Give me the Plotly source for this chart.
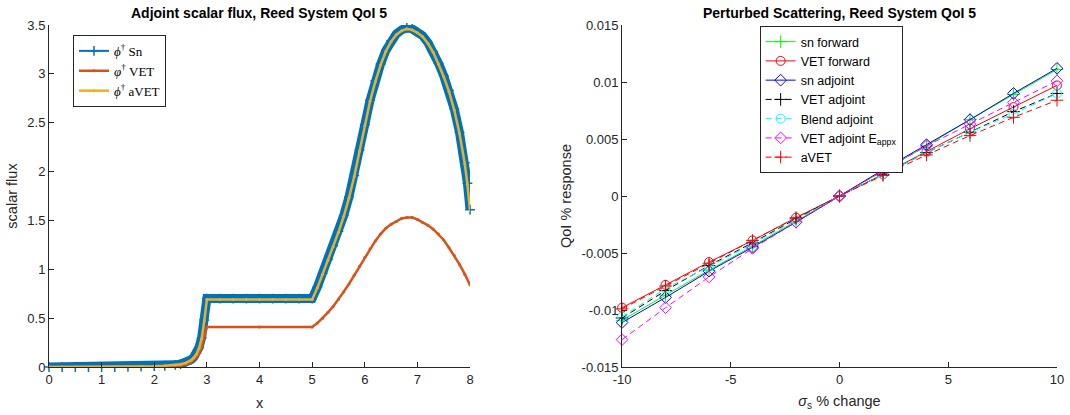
import plotly.graph_objects as go

# ---------------- Left panel data (adjoint scalar flux) ----------------
x_fine = [0, 0.25, 0.5, 0.75, 1.0, 1.25, 1.5, 1.75, 2.0, 2.2, 2.4, 2.5, 2.6, 2.7, 2.75,
          2.8, 2.85, 2.9, 2.95, 3.0, 3.25, 3.5, 3.75, 4.0, 4.25, 4.5, 4.75, 5.0,
          5.1, 5.2, 5.3, 5.4, 5.5, 5.6, 5.7, 5.8, 5.9, 6.0, 6.1, 6.2, 6.3, 6.4, 6.5,
          6.6, 6.7, 6.8, 6.9, 7.0, 7.1, 7.2, 7.3, 7.4, 7.5, 7.6, 7.7, 7.8, 7.9, 7.95, 8.0]
phi_sn = [0, 0, 0, 0, 0, 0, 0.002, 0.004, 0.008, 0.013, 0.022, 0.03, 0.045, 0.075, 0.10,
          0.14, 0.20, 0.30, 0.48, 0.70, 0.70, 0.70, 0.70, 0.70, 0.70, 0.70, 0.70, 0.70,
          0.82, 0.96, 1.10, 1.24, 1.39, 1.55, 1.74, 1.96, 2.22, 2.48, 2.73, 2.93, 3.10, 3.24, 3.34,
          3.41, 3.45, 3.47, 3.46, 3.43, 3.39, 3.32, 3.23, 3.11, 2.98, 2.83, 2.64, 2.40, 2.09, 1.88, 1.61]
phi_avet = [0, 0, 0, 0, 0, 0, 0.002, 0.004, 0.007, 0.012, 0.02, 0.028, 0.042, 0.07, 0.095,
            0.13, 0.19, 0.29, 0.47, 0.69, 0.69, 0.69, 0.69, 0.69, 0.69, 0.69, 0.69, 0.69,
            0.81, 0.95, 1.09, 1.23, 1.38, 1.54, 1.73, 1.95, 2.21, 2.47, 2.72, 2.92, 3.09, 3.23, 3.33,
            3.40, 3.44, 3.46, 3.45, 3.42, 3.38, 3.31, 3.22, 3.10, 2.97, 2.82, 2.63, 2.39, 2.08, 1.87, 1.60]

x_vet = [0, 0.5, 1.0, 1.5, 2.0, 2.2, 2.4, 2.5, 2.6, 2.7, 2.8, 2.85, 2.9, 2.95, 3.0, 4.0, 5.0,
         5.1, 5.2, 5.3, 5.4, 5.5, 5.6, 5.7, 5.8, 5.9, 6.0, 6.1, 6.2, 6.3, 6.4, 6.5, 6.6, 6.7,
         6.8, 6.9, 7.0, 7.1, 7.2, 7.3, 7.4, 7.5, 7.6, 7.7, 7.8, 7.9, 8.0]
phi_vet = [0, 0, 0, 0, 0.002, 0.004, 0.01, 0.015, 0.03, 0.05, 0.10, 0.14, 0.21, 0.32, 0.41, 0.41, 0.41,
           0.45, 0.50, 0.56, 0.62, 0.69, 0.77, 0.85, 0.94, 1.03, 1.12, 1.21, 1.29, 1.36, 1.42, 1.46, 1.49, 1.52,
           1.53, 1.53, 1.51, 1.48, 1.45, 1.41, 1.36, 1.30, 1.22, 1.14, 1.05, 0.95, 0.84]

left_xticks = [0, 1, 2, 3, 4, 5, 6, 7, 8]
left_yticks = [0, 0.5, 1, 1.5, 2, 2.5, 3, 3.5]
left_yticktext = ["0", "0.5", "1", "1.5", "2", "2.5", "3", "3.5"]

# ---------------- Right panel data (perturbed scattering) ----------------
pert = [-10, -8, -6, -4, -2, 0, 2, 4, 6, 8, 10]
sn_forward = [-0.0109, -0.0087, -0.0065, -0.0044, -0.0022, 0, 0.0022, 0.0044, 0.0067, 0.0089, 0.0111]
vet_forward = [-0.0098, -0.0078, -0.0058, -0.0039, -0.0019, 0, 0.0019, 0.0039, 0.0059, 0.0078, 0.0097]
sn_adjoint = [-0.0111, -0.0089, -0.0066, -0.0045, -0.0023, 0, 0.0023, 0.0045, 0.0067, 0.0090, 0.0112]
vet_adjoint = [-0.0107, -0.0083, -0.0061, -0.0041, -0.0020, 0, 0.0019, 0.0038, 0.0056, 0.0074, 0.0090]
blend_adjoint = [-0.0106, -0.0081, -0.0062, -0.0042, -0.0021, 0, 0.0019, 0.0038, 0.0056, 0.0072, 0.0090]
vet_adjoint_eappx = [-0.0126, -0.0098, -0.0071, -0.0046, -0.0023, 0, 0.0022, 0.0044, 0.0063, 0.0082, 0.0101]
avet = [-0.0099, -0.0079, -0.0059, -0.0039, -0.0019, 0, 0.0018, 0.0036, 0.0053, 0.0069, 0.0084]

right_xticks = [-10, -5, 0, 5, 10]
right_xticktext = ["-10", "-5", "0", "5", "10"]
right_yticks = [-0.015, -0.01, -0.005, 0, 0.005, 0.01, 0.015]
right_yticktext = ["-0.015", "-0.01", "-0.005", "0", "0.005", "0.01", "0.015"]

# ---------------- Styling ----------------
SANS = "Liberation Sans, Arial, Helvetica, sans-serif"
SERIF = "Liberation Serif, Times New Roman, serif"
AX = "#262626"
BLUE, ORANGE, YELLOW = "#0072BD", "#D95319", "#EDB120"

fig = go.Figure()

# Left panel
fig.add_trace(go.Scatter(x=x_fine, y=phi_sn, mode="lines", line=dict(color=BLUE, width=9),
                         showlegend=False, hoverinfo="skip", xaxis="x", yaxis="y"))
fig.add_trace(go.Scatter(x=x_fine, y=phi_sn, mode="lines+markers", name="<i>ϕ</i><sup>†</sup> Sn",
                         line=dict(color=BLUE, width=2),
                         marker=dict(symbol="cross-thin", size=7, line=dict(color=BLUE, width=1.5)),
                         cliponaxis=False, xaxis="x", yaxis="y", legend="legend"))
fig.add_trace(go.Scatter(x=x_vet, y=phi_vet, mode="lines+markers", name="<i>φ</i><sup>†</sup> VET",
                         line=dict(color=ORANGE, width=2.5), marker=dict(size=3, color=ORANGE),
                         xaxis="x", yaxis="y", legend="legend"))
fig.add_trace(go.Scatter(x=x_fine, y=phi_avet, mode="lines+markers", name="<i>ϕ</i><sup>†</sup> aVET",
                         line=dict(color=YELLOW, width=2.5), marker=dict(size=3, color=YELLOW),
                         xaxis="x", yaxis="y", legend="legend"))

# Right panel
right_series = [
    ("sn forward", sn_forward, "#00FF00", "solid", "cross-thin", 9),
    ("VET forward", vet_forward, "#FF0000", "solid", "circle-open", 9),
    ("sn adjoint", sn_adjoint, "#0000FF", "solid", "diamond-open", 9),
    ("VET adjoint", vet_adjoint, "#000000", "6px,4px", "cross-thin", 9),
    ("Blend adjoint", blend_adjoint, "#00FFFF", "6px,4px", "circle-open", 9),
    ("VET adjoint E<sub>appx</sub>", vet_adjoint_eappx, "#FF00FF", "6px,4px", "diamond-open", 9),
    ("aVET", avet, "#FF0000", "6px,4px", "cross-thin", 9),
]
for name, vals, col, dash, sym, sz in right_series:
    fig.add_trace(go.Scatter(x=pert, y=vals, mode="lines+markers", name=name,
                             line=dict(color=col, width=1, dash=dash),
                             marker=dict(symbol=sym, size=sz, color=col, line=dict(color=col, width=1)),
                             cliponaxis=False, xaxis="x2", yaxis="y2", legend="legend2"))

axis_common = dict(showline=True, linecolor=AX, linewidth=1, ticks="inside", ticklen=5,
                   tickcolor=AX, tickwidth=1, showgrid=False, zeroline=False, mirror=False,
                   automargin=False, tickfont=dict(family=SANS, size=13, color=AX))

fig.update_layout(
    width=1070, height=415,
    margin=dict(l=49, r=13, t=25, b=48),
    paper_bgcolor="white", plot_bgcolor="white",
    font=dict(family=SANS, color=AX),
    xaxis=dict(domain=[0, 0.4177], range=[0, 8], tickvals=left_xticks,
               title=dict(text="x", font=dict(family=SANS, size=14.5, color=AX), standoff=12),
               **axis_common),
    yaxis=dict(domain=[0, 1], range=[0, 3.5], tickvals=left_yticks, ticktext=left_yticktext,
               title=dict(text="scalar flux", font=dict(family=SANS, size=14.5, color=AX), standoff=6),
               **axis_common),
    xaxis2=dict(domain=[0.5685, 1.0], range=[-10, 10], tickvals=right_xticks, ticktext=right_xticktext,
                anchor="y2",
                title=dict(text="<i>σ</i><sub>s</sub> % change", font=dict(family=SANS, size=14.5, color=AX),
                           standoff=10),
                **axis_common),
    yaxis2=dict(domain=[0, 1], range=[-0.015, 0.015], tickvals=right_yticks, ticktext=right_yticktext,
                anchor="x2",
                title=dict(text="QoI % response", font=dict(family=SANS, size=14.5, color=AX), standoff=6),
                **axis_common),
    legend=dict(x=0.0238, y=0.971, xanchor="left", yanchor="top", bgcolor="white",
                bordercolor=AX, borderwidth=1, font=dict(family=SERIF, size=13, color="#000000"),
                tracegroupgap=0),
    legend2=dict(x=0.705, y=0.997, xanchor="left", yanchor="top", bgcolor="white",
                 bordercolor=AX, borderwidth=1, font=dict(family=SANS, size=12.5, color="#000000"),
                 tracegroupgap=0),
    annotations=[
        dict(text="<b>Adjoint scalar flux, Reed System QoI 5</b>", x=0.2088, y=1.035,
             xref="paper", yref="paper", xanchor="center", yanchor="middle", showarrow=False,
             font=dict(family=SANS, size=14, color="#000000")),
        dict(text="<b>Perturbed Scattering, Reed System QoI 5</b>", x=0.7843, y=1.035,
             xref="paper", yref="paper", xanchor="center", yanchor="middle", showarrow=False,
             font=dict(family=SANS, size=14, color="#000000")),
    ],
)

fig.write_html("out.html")
